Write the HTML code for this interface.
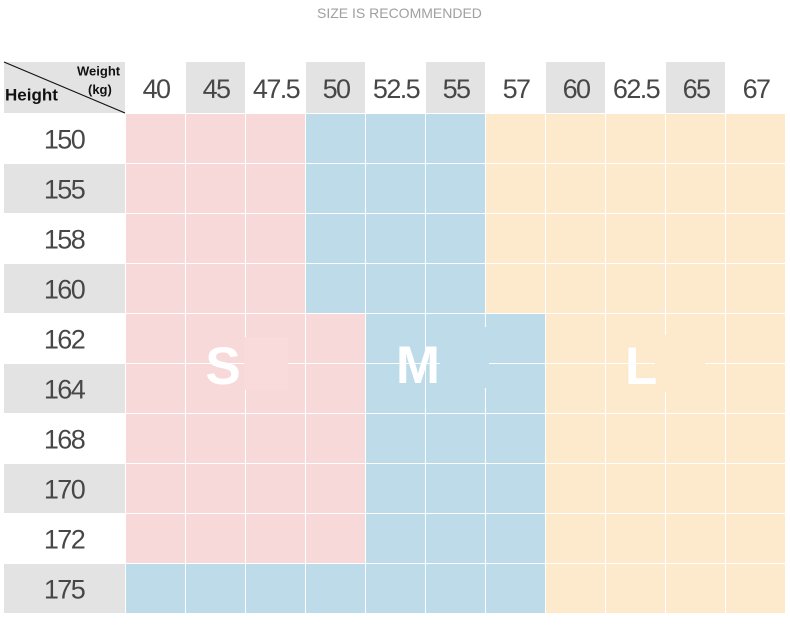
<!DOCTYPE html>
<html>
<head>
<meta charset="utf-8">
<style>
html,body{margin:0;padding:0;background:#fff;}
svg{display:block;}
.num{font-family:"Liberation Sans",sans-serif;font-size:27px;fill:#474747;letter-spacing:-1.6px;}
.big{font-family:"Liberation Sans",sans-serif;font-size:53px;font-weight:bold;fill:#fff;}
</style>
</head>
<body>
<svg width="790" height="634" viewBox="0 0 790 634" xmlns="http://www.w3.org/2000/svg">
<rect x="0" y="0" width="790" height="634" fill="#fff"/>
<text x="317" y="18" font-family="Liberation Sans, sans-serif" font-size="14" fill="#a0a0a0">SIZE IS RECOMMENDED</text>

<!-- header -->
<rect x="4" y="62" width="121" height="51" fill="#e3e3e3"/>
<line x1="4" y1="62" x2="125" y2="113" stroke="#111" stroke-width="1.2"/>
<text x="77" y="75.5" font-family="Liberation Sans, sans-serif" font-size="13" font-weight="bold" fill="#111">Weight</text>
<text x="88" y="94" font-family="Liberation Sans, sans-serif" font-size="13" font-weight="bold" fill="#111">(kg)</text>
<text x="5" y="100.5" font-family="Liberation Sans, sans-serif" font-size="17" font-weight="bold" fill="#111">Height</text>

<rect x="186" y="62" width="59" height="51" fill="#e3e3e3"/>
<rect x="306" y="62" width="59" height="51" fill="#e3e3e3"/>
<rect x="426" y="62" width="59" height="51" fill="#e3e3e3"/>
<rect x="546" y="62" width="59" height="51" fill="#e3e3e3"/>
<rect x="666" y="62" width="59" height="51" fill="#e3e3e3"/>

<g class="num" text-anchor="middle">
<text x="156" y="98">40</text>
<text x="216" y="98">45</text>
<text x="276" y="98">47.5</text>
<text x="336" y="98">50</text>
<text x="396" y="98">52.5</text>
<text x="456" y="98">55</text>
<text x="516" y="98">57</text>
<text x="576" y="98">60</text>
<text x="636" y="98">62.5</text>
<text x="696" y="98">65</text>
<text x="756" y="98">67</text>
</g>

<!-- row headers -->
<rect x="4" y="164" width="121" height="49" fill="#e3e3e3"/>
<rect x="4" y="264" width="121" height="49" fill="#e3e3e3"/>
<rect x="4" y="364" width="121" height="49" fill="#e3e3e3"/>
<rect x="4" y="464" width="121" height="49" fill="#e3e3e3"/>
<rect x="4" y="564" width="121" height="49" fill="#e3e3e3"/>

<g class="num" text-anchor="middle">
<text x="64" y="148.5">150</text>
<text x="64" y="198.5">155</text>
<text x="64" y="248.5">158</text>
<text x="64" y="298.5">160</text>
<text x="64" y="348.5">162</text>
<text x="64" y="398.5">164</text>
<text x="64" y="448.5">168</text>
<text x="64" y="498.5">170</text>
<text x="64" y="548.5">172</text>
<text x="64" y="598.5">175</text>
</g>

<!-- body cells -->
<g id="cells"></g>
<script>
(function(){
  var P="#f8d9d9",B="#bedbe9",Y="#fde9cb";
  var g=document.getElementById("cells");
  var ns="http://www.w3.org/2000/svg";
  for(var r=0;r<10;r++){
    for(var c=0;c<11;c++){
      var col;
      if(r<4){col=c<3?P:(c<6?B:Y);}
      else if(r<9){col=c<4?P:(c<7?B:Y);}
      else {col=c<7?B:Y;}
      var e=document.createElementNS(ns,"rect");
      e.setAttribute("x",126+60*c);
      e.setAttribute("y",114+50*r);
      e.setAttribute("width",59);
      e.setAttribute("height",49);
      e.setAttribute("fill",col);
      g.appendChild(e);
    }
  }
})();
</script>

<!-- patches hiding grid lines around letters -->
<rect x="244" y="337" width="44" height="53" fill="#f9dbdb"/>
<rect x="440" y="327" width="49" height="61" fill="#bedbe9"/>
<rect x="655" y="335" width="50" height="57" fill="#fde9cb"/>

<g class="big" text-anchor="middle">
<text x="223" y="384">S</text>
<text x="418" y="383">M</text>
<text x="641" y="384">L</text>
</g>
</svg>
</body>
</html>
